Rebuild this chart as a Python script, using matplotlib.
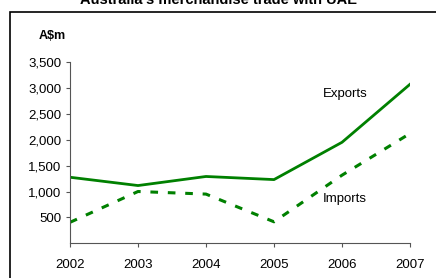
import matplotlib
matplotlib.use("Agg")
import matplotlib.pyplot as plt
from matplotlib.patches import Rectangle

plt.rcParams['font.family'] = ['Liberation Sans', 'DejaVu Sans']

years = [2002, 2003, 2004, 2005, 2006, 2007]
exports = [1275, 1115, 1290, 1230, 1950, 3070]
imports = [405, 1000, 950, 415, 1315, 2120]
yticks = [500, 1000, 1500, 2000, 2500, 3000, 3500]

green = '#008000'

fig = plt.figure(figsize=(4.36, 2.78), dpi=100)
ax = fig.add_axes([70 / 436, 1 - 243.3 / 278, 340 / 436, 181.3 / 278])

ax.plot(years, exports, color=green, lw=2.0, solid_joinstyle='round')
ax.plot(years, imports, color=green, lw=2.2, dashes=(2.5, 3.2))

ax.set_xlim(2002, 2007)
ax.set_ylim(0, 3500)
ax.set_xticks(years)
ax.set_yticks(yticks)
ax.set_yticklabels([f"{v:,}" for v in yticks])
for s in ['top', 'right']:
    ax.spines[s].set_visible(False)
for s in ['left', 'bottom']:
    ax.spines[s].set_color('#555555')
    ax.spines[s].set_linewidth(0.8)
ax.tick_params(axis='both', labelsize=9.5, length=3, color='#555555', pad=3)
ax.tick_params(axis='x', pad=8)

ax.text(2005.72, 2880, 'Exports', fontsize=9.5, ha='left', va='center')
ax.text(2005.72, 855, 'Imports', fontsize=9.5, ha='left', va='center')

fig.text(52 / 436, 1 - 36 / 278, 'A$m', fontsize=9, fontweight='bold', ha='center', va='center')
fig.text(0.5, 1 - 0 / 278, "Australia's merchandise trade with UAE", fontsize=10.5,
         fontweight='bold', ha='center', va='center')

fig.patches.append(Rectangle((10 / 436, -0.1), 1.2, 1 - 12 / 278 + 0.1, transform=fig.transFigure,
                             fill=False, edgecolor='black', lw=1.2))

fig.savefig('out.png', dpi=100)
